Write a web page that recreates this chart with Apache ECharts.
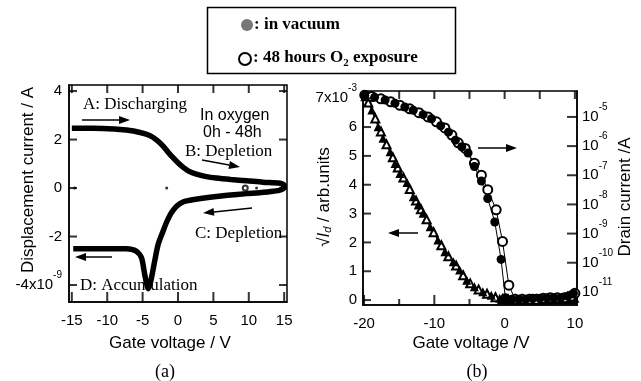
<!DOCTYPE html>
<html>
<head>
<meta charset="utf-8">
<script src="https://cdn.jsdelivr.net/npm/echarts@6/dist/echarts.min.js"></script>
<style>
  html, body { margin: 0; padding: 0; background: #fff; }
  #chart { width: 641px; height: 381px; }
</style>
</head>
<body>
<div id="chart"></div>
<script>
// (a) displacement current loop, swept -15 -> 15 -> -15 V (units 1e-9 A)
const dispV = [-15, -12, -9, -7.3, -5.5, -4, -3, -2.1, -1.4, -0.7, 0, 0.7, 1.5, 2.6, 4, 5.4, 7.5, 9.7, 12, 14.4, 15,
  15, 14.5, 13.5, 11.5, 9.7, 7, 4.5, 2.5, 1.2, 0.4, -0.2, -0.7, -1.1, -1.6, -2.1, -2.8, -3.3, -3.75, -4.2, -4.7, -5.15, -5.9, -7.3, -10, -14.8];
const dispI = [2.47, 2.47, 2.44, 2.39, 2.3, 2.17, 1.98, 1.73, 1.48, 1.25, 1.04, 0.86, 0.7, 0.57, 0.47, 0.41, 0.35, 0.3, 0.24, 0.2, 0.12,
  0.02, -0.08, -0.13, -0.19, -0.23, -0.3, -0.38, -0.46, -0.53, -0.62, -0.75, -0.92, -1.1, -1.4, -1.77, -2.32, -3.02, -3.71, -4.15, -3.57, -2.88, -2.6, -2.5, -2.5, -2.5];
const strayV = [-14.6, -1.6, 11.1];
const strayI = [0, 0, 0];
const strayOpenV = [9.5];
const strayOpenI = [0];

// (b) drain current, log scale (A)
const vacV = [-19.9, -18.5, -17.0, -15.6, -14.2, -13.0, -11.6, -10.4, -9.1, -8.0, -7.0, -6.1, -5.2, -4.3, -3.3, -2.4, -1.4, -0.5, 0.1, 1, 2, 3, 4, 5, 6, 7, 8, 9, 9.8];
const vacI = [5.6e-5, 4.7e-5, 3.8e-5, 2.95e-5, 2.2e-5, 1.7e-5, 1.2e-5, 8.7e-6, 5.0e-6, 3.0e-6, 1.6e-6, 9.5e-7, 5.8e-7, 2.0e-7, 6.3e-8, 1.6e-8, 2.5e-9, 1.3e-10, 6.3e-12, 5.6e-12, 5.6e-12, 5.6e-12, 6.0e-12, 6.0e-12, 6.3e-12, 6.3e-12, 6.3e-12, 7.1e-12, 8.9e-12];
const oxV = [-19.9, -18.9, -17.6, -16.2, -14.9, -13.5, -12.2, -10.9, -9.7, -8.5, -7.5, -6.6, -5.6, -4.3, -3.3, -2.4, -1.2, -0.3, 0.6, 1.5, 2.5, 3.5, 4.5, 5.5, 6.5, 7.5, 8.5, 9.5, 10];
const oxI = [5.6e-5, 5.0e-5, 4.2e-5, 3.3e-5, 2.5e-5, 1.9e-5, 1.4e-5, 1.0e-5, 6.8e-6, 4.2e-6, 2.4e-6, 1.3e-6, 8.3e-7, 2.6e-7, 1.0e-7, 3.2e-8, 6.5e-9, 5.4e-10, 1.7e-11, 5.6e-12, 5.6e-12, 5.6e-12, 5.6e-12, 6.0e-12, 6.3e-12, 6.3e-12, 6.3e-12, 7.1e-12, 8.9e-12];

// (b) sqrt(Id), units 1e-3 arb.
const sqVacV = [-19.9, -18.9, -18.0, -17.3, -16.3, -15.6, -14.9, -13.9, -13.0, -12.3, -11.6, -10.6, -9.5, -8.5, -7.3, -6.4, -5.4, -4.3, -3.1, -1.9, -0.7, 0, 1, 2, 3, 4, 5, 6, 7, 8, 9, 10];
const sqVac = [7.05, 6.59, 6.01, 5.61, 5.14, 4.74, 4.39, 4.08, 3.58, 3.3, 3.01, 2.54, 2.08, 1.68, 1.33, 1.04, 0.69, 0.46, 0.29, 0.17, 0.06, 0.02, 0.02, 0.02, 0.02, 0.02, 0.02, 0.03, 0.03, 0.03, 0.04, 0.06];
const sqOxV = [-19.4, -18.4, -17.6, -16.8, -15.9, -15.2, -14.4, -13.5, -12.6, -11.9, -11.1, -10.1, -9.0, -8.0, -6.9, -5.9, -4.9, -3.7, -2.5, -1.3, -0.3, 0.5, 1.5, 2.5, 3.5, 4.5, 5.5, 6.5, 7.5, 8.5, 9.5];
const sqOx = [6.85, 6.3, 5.85, 5.4, 4.95, 4.6, 4.25, 3.85, 3.45, 3.15, 2.8, 2.35, 1.9, 1.52, 1.2, 0.86, 0.58, 0.37, 0.22, 0.1, 0.03, 0.02, 0.02, 0.02, 0.02, 0.02, 0.02, 0.03, 0.03, 0.03, 0.04];

const aXTicks = [-15, -10, -5, 0, 5, 10, 15];
const aYTicks = [-4, -2, 0, 2, 4];
const bXTicks = [-20, -15, -10, -5, 0, 5, 10];
const bXMajor = [-20, -10, 0, 10];
const bXMinor = [-15, -5, 5];
const bYTicks = [0, 1, 2, 3, 4, 5, 6, 7];
const bLogTicks = [1e-11, 1e-10, 1e-9, 1e-8, 1e-7, 1e-6, 1e-5];

// axis ranges
const aX = [-15.4, 15.4], aY = [-4.7, 4.25];
const bX = [-20.15, 10.3], bY = [-0.17, 7.25], bLog = [3.55e-12, 7.76e-5];

const zip = (xs, ys) => xs.map((x, i) => [x, ys[i]]);

const SANS = "'Liberation Sans', Arial, sans-serif";
const SERIF = "'Liberation Serif', 'Times New Roman', serif";

const supRich = {
  b: { fontFamily: SANS, fontSize: 15, color: '#000', lineHeight: 22, verticalAlign: 'bottom' },
  s: { fontFamily: SANS, fontSize: 10, color: '#000', verticalAlign: 'top' }
};

const axisLineStyle = { show: true, onZero: false, lineStyle: { color: '#000', width: 1.5 } };

function plainAxis(gridIndex, pos, range, extra) {
  return Object.assign({
    type: 'value', gridIndex, position: pos, min: range[0], max: range[1],
    axisLine: axisLineStyle,
    splitLine: { show: false },
    axisTick: { show: false },
    axisLabel: { show: false }
  }, extra || {});
}

// inside tick marks drawn as thin rect symbols sitting on the frame
function tickSeries(xi, yi, data, size, offset) {
  return {
    type: 'scatter', xAxisIndex: xi, yAxisIndex: yi, data, clip: false, silent: true, z: 5,
    symbol: 'rect', symbolSize: size, symbolOffset: offset,
    itemStyle: { color: '#000' }
  };
}
const ticksX = (xi, yi, vals, yv, len, down) =>
  tickSeries(xi, yi, vals.map(v => [v, yv]), [2, len], [0, down ? len / 2 : -len / 2]);
const ticksY = (xi, yi, vals, xv, len, left) =>
  tickSeries(xi, yi, vals.map(v => [xv, v]), [len, 2], [left ? -len / 2 : len / 2, 0]);

function arrow(x1, y1, x2, y2) {
  const a = Math.atan2(y2 - y1, x2 - x1), L = 11, w = 4;
  const bx = x2 - L * Math.cos(a), by = y2 - L * Math.sin(a);
  return [
    { type: 'line', shape: { x1, y1, x2: bx, y2: by }, style: { stroke: '#000', lineWidth: 1.5 } },
    { type: 'polygon', shape: { points: [[x2, y2], [bx - w * Math.sin(a), by + w * Math.cos(a)], [bx + w * Math.sin(a), by - w * Math.cos(a)]] }, style: { fill: '#000' } }
  ];
}

function txt(x, y, text, font, extra) {
  return Object.assign({
    type: 'text', x, y,
    style: Object.assign({ text, font, fill: '#000', textAlign: 'left', align: 'left', textVerticalAlign: 'middle', verticalAlign: 'middle' }, (extra && extra.style) || {})
  }, extra && extra.rotation !== undefined ? { rotation: extra.rotation } : {});
}

const chart = echarts.init(document.getElementById('chart'));

const option = {
  animation: false,
  backgroundColor: '#fff',
  grid: [
    { left: 69, top: 85, width: 218, height: 217, show: true, borderColor: '#000', borderWidth: 1.5, backgroundColor: 'transparent' },
    { left: 363, top: 91, width: 214, height: 214, show: true, borderColor: '#000', borderWidth: 1.5, backgroundColor: 'transparent' }
  ],
  xAxis: [
    plainAxis(0, 'bottom', aX, {
      axisLabel: { show: true, customValues: aXTicks, margin: 11, fontFamily: SANS, fontSize: 15, color: '#000' }
    }),
    plainAxis(1, 'bottom', bX, {
      axisLabel: { show: true, customValues: bXMajor, margin: 11, fontFamily: SANS, fontSize: 15, color: '#000' }
    })
  ],
  yAxis: [
    plainAxis(0, 'left', aY, {
      axisLabel: {
        show: true, customValues: aYTicks, margin: 7, padding: [0, 0, 7, 0], rich: supRich,
        formatter: v => v === -4 ? '{b|-4x10}{s|-9}' : '{b|' + v + '}'
      }
    }),
    plainAxis(1, 'left', bY, {
      axisLabel: {
        show: true, customValues: bYTicks, margin: 6, padding: [0, 0, 7, 0], rich: supRich,
        formatter: v => v === 7 ? '{b|7x10}{s|-3}' : '{b|' + v + '}'
      }
    }),
    {
      type: 'log', logBase: 10, gridIndex: 1, position: 'right', min: bLog[0], max: bLog[1],
      axisLine: axisLineStyle,
      splitLine: { show: false },
      axisTick: { show: false },
      axisLabel: {
        show: true, customValues: bLogTicks, margin: 5, padding: [0, 0, 7, 0], rich: supRich,
        formatter: v => '{b|10}{s|' + Math.round(Math.log10(v)) + '}'
      }
    }
  ],
  series: [
    {
      type: 'line', xAxisIndex: 0, yAxisIndex: 0, data: zip(dispV, dispI),
      symbol: 'none', smooth: 0.25, lineStyle: { color: '#000', width: 5.5 }
    },
    {
      type: 'scatter', xAxisIndex: 0, yAxisIndex: 0, data: zip(strayV, strayI),
      symbolSize: 3, itemStyle: { color: '#000' }
    },
    {
      type: 'scatter', xAxisIndex: 0, yAxisIndex: 0, data: zip(strayOpenV, strayOpenI),
      symbol: 'emptyCircle', symbolSize: 5, itemStyle: { color: '#000', borderWidth: 1 }
    },
    {
      type: 'line', xAxisIndex: 1, yAxisIndex: 1, data: zip(sqOxV, sqOx),
      symbol: 'emptyTriangle', symbolSize: 8, showAllSymbol: true,
      itemStyle: { color: '#000', borderWidth: 1 }, lineStyle: { color: '#000', width: 1 }
    },
    {
      type: 'line', xAxisIndex: 1, yAxisIndex: 1, data: zip(sqVacV, sqVac),
      symbol: 'triangle', symbolSize: 9, showAllSymbol: true,
      itemStyle: { color: '#000' }, lineStyle: { color: '#000', width: 1 }
    },
    {
      type: 'line', xAxisIndex: 1, yAxisIndex: 2, data: zip(oxV, oxI),
      symbol: 'emptyCircle', symbolSize: 9, showAllSymbol: true,
      itemStyle: { color: '#000', borderWidth: 1.2 }, lineStyle: { color: '#000', width: 1 }
    },
    {
      type: 'line', xAxisIndex: 1, yAxisIndex: 2, data: zip(vacV, vacI),
      symbol: 'circle', symbolSize: 9, showAllSymbol: true,
      itemStyle: { color: '#000' }, lineStyle: { color: '#000', width: 1 }
    },
    // frame ticks, panel (a)
    ticksX(0, 0, aXTicks, aY[0], 10, false),
    ticksX(0, 0, aXTicks, aY[1], 8, true),
    ticksY(0, 0, aYTicks, aX[0], 8, false),
    ticksY(0, 0, aYTicks, aX[1], 8, true),
    // frame ticks, panel (b)
    ticksX(1, 1, bXMajor, bY[0], 10, false),
    ticksX(1, 1, bXMinor, bY[0], 6, false),
    ticksX(1, 1, bXTicks, bY[1], 8, true),
    ticksY(1, 1, bYTicks, bX[0], 8, false),
    ticksY(1, 2, bLogTicks, bX[1], 10, true)
  ],
  graphic: [
    // legend box
    { type: 'rect', shape: { x: 207.5, y: 7.5, width: 248, height: 66 }, style: { fill: 'none', stroke: '#000', lineWidth: 1.5 } },
    { type: 'circle', shape: { cx: 247, cy: 25, r: 6 }, style: { fill: '#777' } },
    txt(254, 25, ': in vacuum', 'bold 17px ' + SERIF),
    { type: 'circle', shape: { cx: 245, cy: 59, r: 6 }, style: { fill: '#fff', stroke: '#000', lineWidth: 2 } },
    {
      type: 'text', x: 253, y: 59,
      style: {
        text: '{t|: 48 hours O}{u|2}{t| exposure}', align: 'left', textAlign: 'left', verticalAlign: 'middle', textVerticalAlign: 'middle',
        rich: {
          t: { font: 'bold 17px ' + SERIF, fill: '#000', color: '#000', lineHeight: 20, verticalAlign: 'top' },
          u: { font: 'bold 11px ' + SERIF, fill: '#000', color: '#000', verticalAlign: 'bottom' }
        }
      }
    },

    // panel (a) annotations
    txt(83, 105, 'A: Discharging', '17px ' + SERIF),
    ...arrow(82, 120, 130, 120),
    txt(200, 116, 'In oxygen', '16px ' + SANS),
    txt(203, 133, '0h - 48h', '16px ' + SANS),
    txt(185, 152, 'B: Depletion', '17px ' + SERIF),
    ...arrow(202, 160, 240, 167),
    ...arrow(252, 208, 203, 213),
    txt(195, 234, 'C: Depletion', '17px ' + SERIF),
    ...arrow(112, 257, 75, 257),
    txt(80, 286, 'D: Accumulation', '17px ' + SERIF),

    // panel (b) arrows
    ...arrow(478, 148, 517, 148),
    ...arrow(418, 233, 388, 233),

    // axis titles
    txt(28, 180, 'Displacement current / A', '17px ' + SANS, { rotation: Math.PI / 2, style: { textAlign: 'center', align: 'center' } }),
    txt(170, 343, 'Gate voltage / V', '17px ' + SANS, { style: { textAlign: 'center', align: 'center' } }),
    txt(471, 343, 'Gate voltage /V', '17px ' + SANS, { style: { textAlign: 'center', align: 'center' } }),
    txt(625, 197, 'Drain current /A', '17px ' + SANS, { rotation: Math.PI / 2, style: { textAlign: 'center', align: 'center' } }),
    {
      type: 'text', x: 322, y: 197, rotation: Math.PI / 2,
      style: {
        text: '{r|√}{i|I}{d|d}{n| / arb.units}', align: 'center', textAlign: 'center', verticalAlign: 'middle', textVerticalAlign: 'middle',
        rich: {
          r: { font: '17px ' + SANS, fill: '#000', color: '#000', lineHeight: 22, verticalAlign: 'bottom' },
          i: { font: 'italic 17px ' + SANS, fill: '#000', color: '#000', lineHeight: 22, verticalAlign: 'bottom' },
          d: { font: 'italic 11px ' + SANS, fill: '#000', color: '#000', verticalAlign: 'bottom' },
          n: { font: '17px ' + SANS, fill: '#000', color: '#000', lineHeight: 22, verticalAlign: 'bottom' }
        }
      }
    },
    txt(165, 372, '(a)', '18px ' + SERIF, { style: { textAlign: 'center', align: 'center' } }),
    txt(477, 372, '(b)', '18px ' + SERIF, { style: { textAlign: 'center', align: 'center' } })
  ]
};

chart.setOption(option);
</script>
</body>
</html>
